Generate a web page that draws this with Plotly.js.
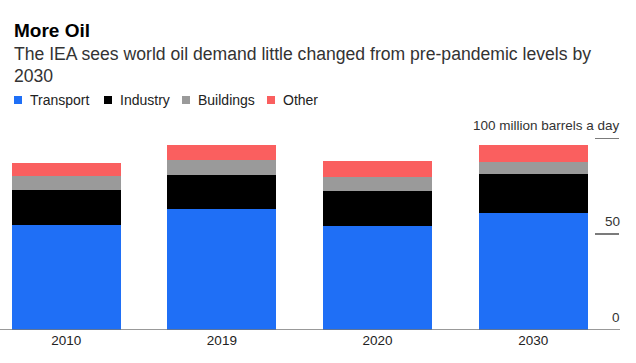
<!DOCTYPE html>
<html>
<head>
<meta charset="utf-8">
<script src="https://cdn.plot.ly/plotly-3.0.1.min.js"></script>
<style>html,body{margin:0;padding:0;background:#fff}#chart{width:636px;height:363px}</style>
</head>
<body>
<div id="chart"></div>
<script>
// ---- data ----
var years = ["2010", "2019", "2020", "2030"];
var seriesNames = ["Transport", "Industry", "Buildings", "Other"];
var transport = [54.8, 62.8, 54.1, 60.9];
var industry = [18.0, 17.8, 18.3, 20.3];
var buildings = [7.3, 7.9, 7.4, 6.1];
var other = [6.7, 7.8, 8.3, 9.0];
var yTickVals = [0, 50, 100];
var yTickText = ["0", "50", "100 million barrels a day"];

var seriesValues = [transport, industry, buildings, other];
var colors = ["#1f6ff6", "#000000", "#9a9a9a", "#fa5f5f"];
var FONT = "Liberation Sans, Arial, sans-serif";

var W = 636, H = 363;
var M = {l: 12, r: 16, t: 138, b: 33};
var PH = H - M.t - M.b, PW = W - M.l - M.r;
function py(p) { return (H - M.b - p) / PH; }   // pixel y -> paper y
function px(p) { return (p - M.l) / PW; }       // pixel x -> paper x

var traces = seriesNames.map(function (name, i) {
  return {
    type: "bar", name: name, x: years, y: seriesValues[i],
    marker: {color: colors[i], line: {width: 0}},
    hoverinfo: "x+y+name"
  };
});

var annotations = [
  {text: "<b>More Oil</b>", x: px(12), y: py(30), xref: "paper", yref: "paper",
   xanchor: "left", yanchor: "middle", showarrow: false, font: {family: FONT, size: 19, color: "#000"}},
  {text: "The IEA sees world oil demand little changed from pre-pandemic levels by", x: px(12), y: py(54),
   xref: "paper", yref: "paper", xanchor: "left", yanchor: "middle", showarrow: false,
   font: {family: FONT, size: 17.6, color: "#333"}},
  {text: "2030", x: px(12), y: py(75.5), xref: "paper", yref: "paper", xanchor: "left", yanchor: "middle",
   showarrow: false, font: {family: FONT, size: 17.6, color: "#333"}}
];
var shapes = [];

// legend (squares + labels)
var legX = [14, 104, 182, 267];
seriesNames.forEach(function (name, i) {
  shapes.push({type: "rect", xref: "paper", yref: "paper", x0: px(legX[i]), x1: px(legX[i] + 8),
    y0: py(104), y1: py(96), fillcolor: colors[i], line: {width: 0}});
  annotations.push({text: name, x: px(legX[i] + 14), y: py(100), xref: "paper", yref: "paper",
    xanchor: "left", yanchor: "middle", showarrow: false, font: {family: FONT, size: 14, color: "#222"}});
});

// y ticks on the right: short line + label above it
yTickVals.forEach(function (v, i) {
  if (v > 0) {
    shapes.push({type: "line", xref: "paper", yref: "y", x0: px(595), x1: px(619), y0: v, y1: v,
      line: {color: "#333", width: 1.3}});
  }
  annotations.push({text: yTickText[i], x: px(622), y: v, xref: "paper", yref: "y",
    xanchor: "right", yanchor: "bottom", yshift: 3, showarrow: false,
    font: {family: FONT, size: 13.5, color: "#333"}});
});

// baseline
shapes.push({type: "line", xref: "paper", yref: "y", x0: px(0), x1: 1, y0: 0, y1: 0,
  line: {color: "#777", width: 1.3}});

var layout = {
  width: W, height: H, margin: M,
  paper_bgcolor: "#fff", plot_bgcolor: "#fff",
  barmode: "stack", bargap: 0.3, showlegend: false,
  xaxis: {type: "category", range: [-0.348, 3.557], showgrid: false, zeroline: false, showline: false,
    ticks: "", tickfont: {family: FONT, size: 13.5, color: "#222"}, fixedrange: true},
  yaxis: {range: [0, 100], showgrid: false, zeroline: false, showline: false, showticklabels: false,
    ticks: "", fixedrange: true},
  annotations: annotations, shapes: shapes,
  font: {family: FONT}
};

Plotly.newPlot("chart", traces, layout, {displayModeBar: false, staticPlot: true});
</script>
</body>
</html>
